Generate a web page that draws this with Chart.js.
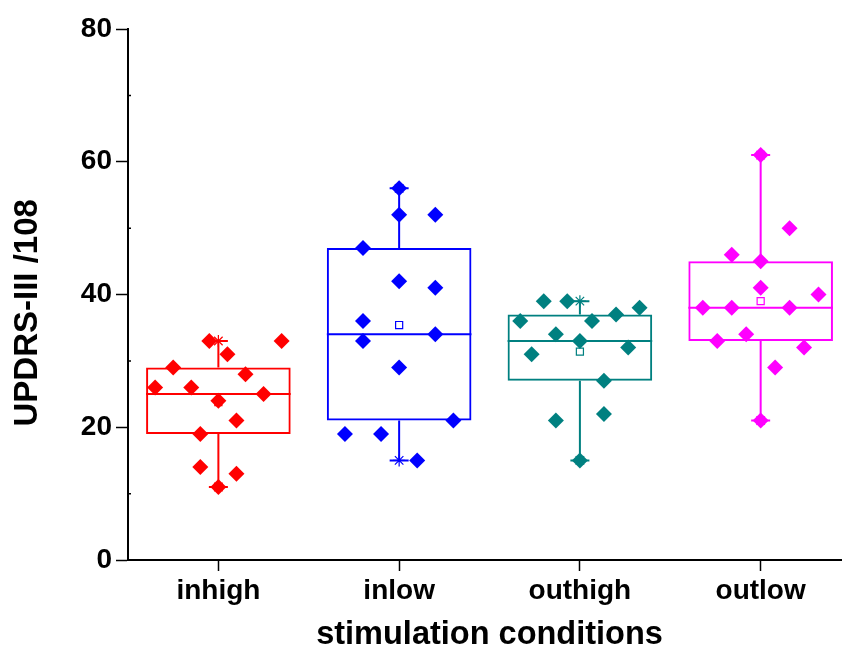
<!DOCTYPE html>
<html>
<head>
<meta charset="utf-8">
<title>UPDRS-III by stimulation condition</title>
<script src="https://cdn.jsdelivr.net/npm/chart.js"></script>
<style>
  body { margin: 0; background: #fff; }
  #wrap { width: 842px; height: 655px; }
</style>
</head>
<body>
<div id="wrap"><canvas id="boxChart" width="842" height="655"></canvas></div>
<script>
const categories = ['inhigh', 'inlow', 'outhigh', 'outlow'];
const yTicks = [0, 20, 40, 60, 80];
const yMinorTicks = [10, 30, 50, 70];

// single scores per condition, plus the sideways jitter (fraction of a category)
const inhighScores = [33, 33, 31, 29, 28, 26, 26, 25, 24, 21, 19, 14, 13, 11];
const inhighJitter = [-0.05, 0.35, 0.05, -0.25, 0.15, -0.35, -0.15, 0.25, 0, 0.1, -0.1, -0.1, 0.1, 0];
const inlowScores = [56, 52, 52, 47, 42, 41, 36, 33, 34, 29, 21, 19, 19, 15];
const inlowJitter = [0, 0, 0.2, -0.2, 0, 0.2, -0.2, -0.2, 0.2, 0, 0.3, -0.3, -0.1, 0.1];
const outhighScores = [39, 39, 38, 37, 36, 36, 34, 33, 32, 31, 27, 22, 21, 15];
const outhighJitter = [-0.2, -0.07, 0.33, 0.2, -0.33, 0.067, -0.133, 0, 0.267, -0.267, 0.133, 0.133, -0.133, 0];
const outlowScores = [61, 50, 46, 45, 41, 40, 38, 38, 38, 34, 33, 32, 29, 21];
const outlowJitter = [0, 0.16, -0.16, 0, 0, 0.32, -0.32, -0.16, 0.16, -0.08, -0.24, 0.24, 0.08, 0];

// box statistics
const q1 = [19, 21, 27, 33];
const medians = [25, 34, 33, 38];
const q3 = [29, 47, 37, 45];
const whiskerLow = [11, 15, 15, 21];
const whiskerHigh = [33, 56, 39, 61];
const means = [23.8, 35.4, 31.4, 39.0];

const colors = ['#FF0000', '#0000FF', '#008080', '#FF00FF'];
const scores = [inhighScores, inlowScores, outhighScores, outlowScores];
const jitter = [inhighJitter, inlowJitter, outhighJitter, outlowJitter];

const fontFamily = '"Liberation Sans", Arial, sans-serif';
const nbsp = '\u00A0';

const pointSets = categories.map((name, i) => ({
  type: 'scatter',
  label: name,
  order: 0,
  data: scores[i].map((v, k) => ({ x: i + 1 + jitter[i][k], y: v })),
  pointStyle: 'rectRot',
  pointRadius: 8,
  pointBorderWidth: 0,
  backgroundColor: colors[i],
  borderColor: colors[i]
}));

const extremes = [];
const extremeColors = [];
categories.forEach((name, i) => {
  extremes.push({ x: i + 1, y: whiskerLow[i] }, { x: i + 1, y: whiskerHigh[i] });
  extremeColors.push(colors[i], colors[i]);
});

const boxExtras = {
  id: 'boxExtras',
  beforeDatasetsDraw(chart) {
    const { ctx, scales: { x, y } } = chart;
    const bars = chart.getDatasetMeta(chart.data.datasets.length - 1).data;
    ctx.save();
    ctx.lineWidth = 2;
    categories.forEach((name, i) => {
      const cx = x.getPixelForValue(i + 1);
      const half = bars[i].width / 2;
      const cap = 9.5;
      ctx.strokeStyle = colors[i];
      ctx.beginPath();
      ctx.moveTo(cx - half, y.getPixelForValue(medians[i]));
      ctx.lineTo(cx + half, y.getPixelForValue(medians[i]));
      ctx.moveTo(cx, y.getPixelForValue(q3[i]));
      ctx.lineTo(cx, y.getPixelForValue(whiskerHigh[i]));
      ctx.moveTo(cx, y.getPixelForValue(q1[i]));
      ctx.lineTo(cx, y.getPixelForValue(whiskerLow[i]));
      ctx.moveTo(cx - cap, y.getPixelForValue(whiskerHigh[i]));
      ctx.lineTo(cx + cap, y.getPixelForValue(whiskerHigh[i]));
      ctx.moveTo(cx - cap, y.getPixelForValue(whiskerLow[i]));
      ctx.lineTo(cx + cap, y.getPixelForValue(whiskerLow[i]));
      ctx.stroke();
    });
    // small inward minor ticks on the y axis
    ctx.strokeStyle = '#000';
    ctx.lineWidth = 1.5;
    ctx.beginPath();
    yMinorTicks.forEach(v => {
      const py = y.getPixelForValue(v);
      ctx.moveTo(x.left, py);
      ctx.lineTo(x.left + 3, py);
    });
    ctx.stroke();
    ctx.restore();
  }
};

new Chart(document.getElementById('boxChart'), {
  type: 'scatter',
  data: {
    datasets: [
      ...pointSets,
      {
        type: 'scatter',
        label: 'min/max',
        order: 1,
        data: extremes,
        pointStyle: 'star',
        pointRadius: 6,
        pointBorderWidth: 1.2,
        borderColor: extremeColors,
        backgroundColor: extremeColors
      },
      {
        type: 'scatter',
        label: 'mean',
        order: 2,
        data: means.map((v, i) => ({ x: i + 1, y: v })),
        pointStyle: 'rect',
        pointRadius: 5,
        pointBorderWidth: 1.2,
        borderColor: colors,
        backgroundColor: '#fff'
      },
      {
        type: 'bar',
        label: 'box',
        order: 3,
        data: categories.map((name, i) => ({ x: i + 1, y: [q1[i], q3[i]] })),
        backgroundColor: 'rgba(0,0,0,0)',
        borderColor: colors,
        borderWidth: 2,
        borderSkipped: false,
        barPercentage: 0.8,
        categoryPercentage: 1
      }
    ]
  },
  options: {
    responsive: false,
    devicePixelRatio: 1,
    animation: false,
    layout: { autoPadding: false, padding: { top: 29, right: 0, bottom: 0, left: 0 } },
    plugins: {
      legend: { display: false },
      tooltip: { enabled: false }
    },
    scales: {
      x: {
        type: 'linear',
        min: 0.5,
        max: 4.45,
        offset: false,
        afterBuildTicks: s => { s.ticks = categories.map((name, i) => ({ value: i + 1 })); },
        afterFit: s => { s.height = 95; },
        border: { display: true, color: '#000', width: 2 },
        grid: { drawOnChartArea: false, offset: false, tickLength: 11, tickWidth: 1.5, tickColor: '#000' },
        ticks: {
          autoSkip: false,
          maxRotation: 0,
          padding: 3,
          color: '#000',
          font: { family: fontFamily, size: 28, weight: 'bold' },
          callback: (v, i) => categories[i]
        },
        title: {
          display: true,
          text: nbsp + 'stimulation conditions',
          color: '#000',
          font: { family: fontFamily, size: 32.5, weight: 'bold' },
          padding: { top: 0, bottom: 0 }
        }
      },
      y: {
        min: 0,
        max: 80,
        afterBuildTicks: s => { s.ticks = yTicks.map(v => ({ value: v })); },
        afterFit: s => { s.width = 128; },
        border: { display: true, color: '#000', width: 2 },
        grid: { drawOnChartArea: false, tickLength: 12, tickWidth: 1.5, tickColor: '#000' },
        ticks: {
          padding: 4,
          color: '#000',
          font: { family: fontFamily, size: 28, weight: 'bold' }
        },
        title: {
          display: true,
          text: 'UPDRS-III /108' + nbsp.repeat(4),
          color: '#000',
          font: { family: fontFamily, size: 33, weight: 'bold' },
          padding: { top: 8, bottom: 0 }
        }
      }
    }
  },
  plugins: [boxExtras]
});
</script>
</body>
</html>
